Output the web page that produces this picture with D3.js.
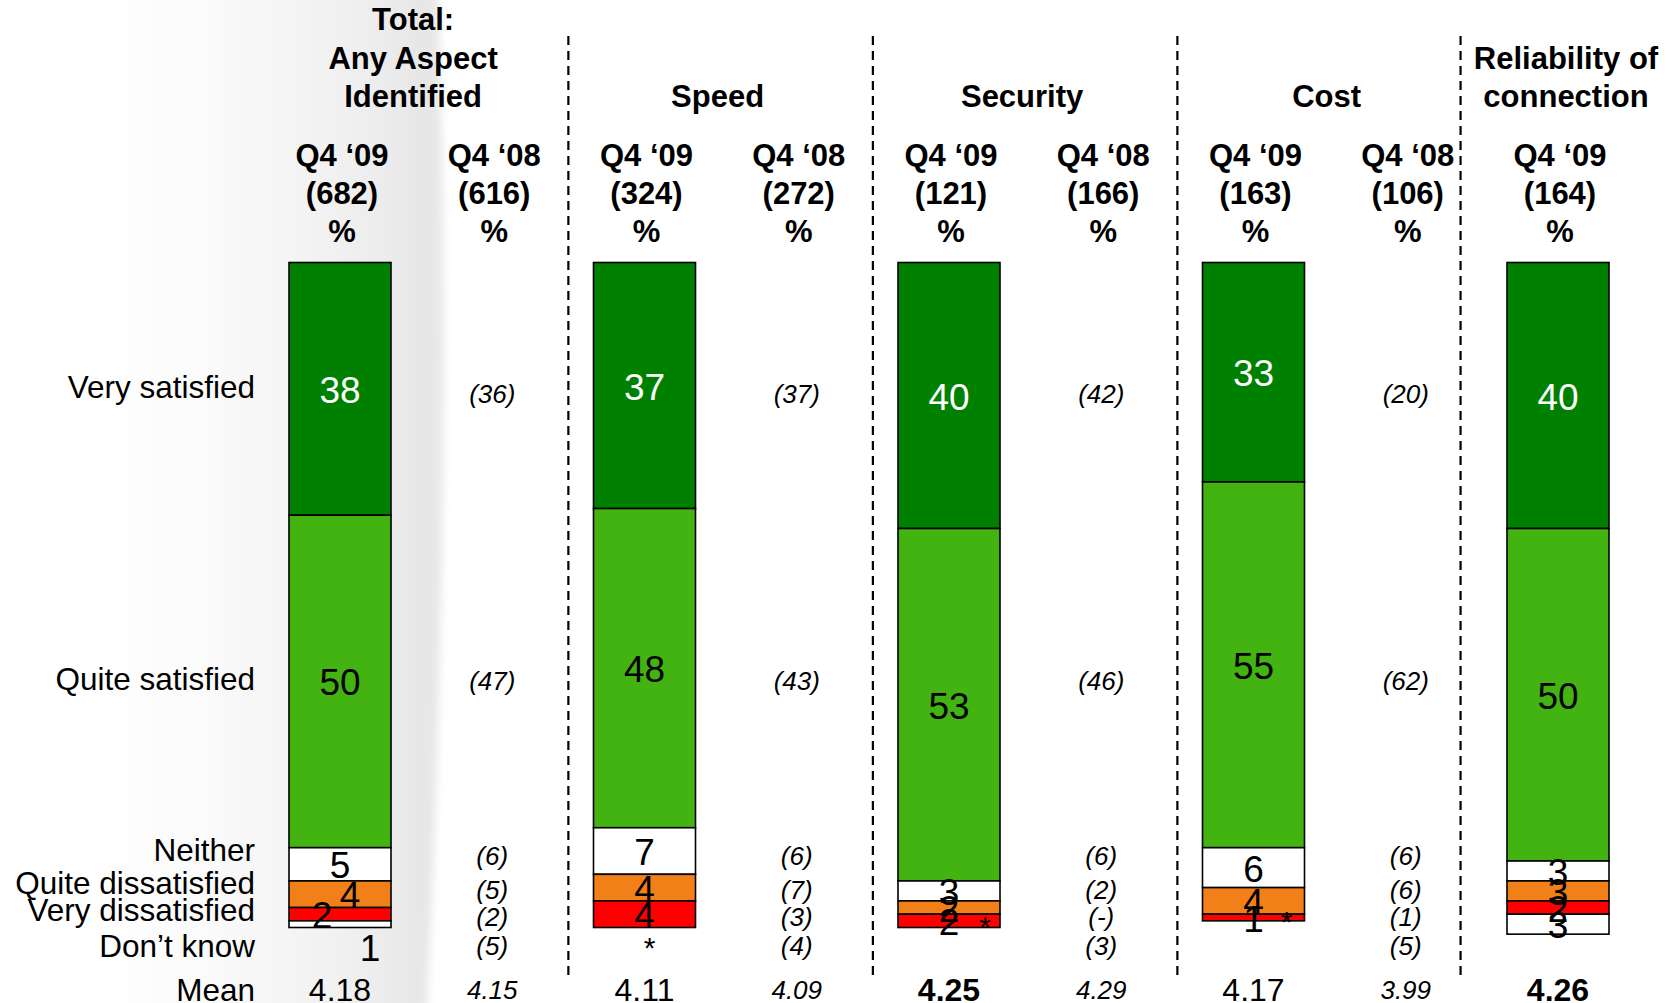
<!DOCTYPE html>
<html>
<head>
<meta charset="utf-8">
<script src="https://cdn.jsdelivr.net/npm/d3@7"></script>
<style>
  body { margin: 0; background: #fff; }
  svg { display: block; font-family: "Liberation Sans", Arial, sans-serif; }
</style>
</head>
<body>
<script>
const width = 1672
const height = 1003

// data
const categories = ["Very satisfied", "Quite satisfied", "Neither", "Quite dissatisfied", "Very dissatisfied", "Don’t know"]
const groupTitles = [["Total:", "Any Aspect", "Identified"], ["Speed"], ["Security"], ["Cost"], ["Reliability of", "connection"]]
const waves = ["Q4 ‘09", "Q4 ‘08"]
const base09 = [682, 324, 121, 163, 164]
const base08 = [616, 272, 166, 106, null]

// Q4 '09 bars (0 = "*", less than 0.5%)
const total09 = [38, 50, 5, 4, 2, 1]
const speed09 = [37, 48, 7, 4, 4, 0]
const security09 = [40, 53, 3, 2, 2, 0]
const cost09 = [33, 55, 6, 4, 1, 0]
const reliability09 = [40, 50, 3, 3, 2, 3]

// Q4 '08 comparison figures (null = "-")
const total08 = [36, 47, 6, 5, 2, 5]
const speed08 = [37, 43, 6, 7, 3, 4]
const security08 = [42, 46, 6, 2, null, 3]
const cost08 = [20, 62, 6, 6, 1, 5]

const mean09 = [4.18, 4.11, 4.25, 4.17, 4.26]
const mean08 = [4.15, 4.09, 4.29, 3.99]
const meanSignificant = [false, false, true, false, true]

const colors = ["#008000", "#43b311", "#ffffff", "#f28018", "#ff0000", "#ffffff"]

const values09 = [total09, speed09, security09, cost09, reliability09]
const values08 = [total08, speed08, security08, cost08]

// one entry per column, in reading order
const columns = []
groupTitles.forEach((t, g) => {
  columns.push({key: g + "-09", group: g, wave: 0, n: base09[g], values: values09[g], mean: mean09[g]})
  if (base08[g] != null)
    columns.push({key: g + "-08", group: g, wave: 1, n: base08[g], values: values08[g], mean: mean08[g]})
})

const x = d3.scalePoint().domain(columns.map(c => c.key)).range([340, 1558])
const y = d3.scaleLinear().domain([0, 100]).range([262.5, 927.5])
const barW = 102
const meanBase = 1001

// hand nudges for crowded labels (like the powerpoint original)
const nudge = {
  "0-09": {3: [10, 0], 4: [-18, 0], 5: [30, 23]},
  "1-09": {5: [5, 13]},
  "2-09": {5: [36, -8]},
  "3-09": {5: [33, -6]}
}

const svg = d3.select("body").append("svg")
  .attr("width", width)
  .attr("height", height)

// soft grey shading behind the first column
const defs = svg.append("defs")
const grad = defs.append("linearGradient").attr("id", "shade")
  .attr("gradientUnits", "userSpaceOnUse")
  .attr("x1", 90).attr("x2", 445).attr("y1", 0).attr("y2", 0)
grad.selectAll("stop")
  .data([[0, "#ffffff"], [0.3, "#fbfbfb"], [0.7, "#f1f1f1"], [0.95, "#e6e6e6"], [1, "#e9e9e9"]])
  .enter().append("stop")
  .attr("offset", d => d[0])
  .attr("stop-color", d => d[1])
defs.append("filter").attr("id", "soft")
  .append("feGaussianBlur").attr("stdDeviation", 4)

svg.append("path")
  .attr("d", "M-20,-20 L438,-20 Q454,480 426,1023 L-20,1023 Z")
  .attr("fill", "url(#shade)")
  .attr("filter", "url(#soft)")

// group titles, bottom aligned
const titleG = svg.append("g")
  .attr("font-weight", "bold")
  .attr("font-size", 31)
  .attr("text-anchor", "middle")
groupTitles.forEach((lines, g) => {
  const cols = columns.filter(c => c.group === g)
  let cx = d3.mean(cols, c => x(c.key))
  if (cols.length === 1) cx += 8
  else cx -= 3
  lines.forEach((line, i) => {
    titleG.append("text")
      .attr("x", cx)
      .attr("y", 107 - (lines.length - 1 - i) * 38.5)
      .text(line)
  })
})

// column headers
const head = svg.append("g")
  .attr("font-weight", "bold")
  .attr("font-size", 31)
  .attr("text-anchor", "middle")
columns.forEach(c => {
  const t = [waves[c.wave], "(" + c.n + ")", "%"]
  t.forEach((s, i) => {
    head.append("text").attr("x", x(c.key) + 2).attr("y", 166 + i * 38).text(s)
  })
})

// dividers between groups: halfway, or closer in when the next group has one column
const dividers = d3.range(1, groupTitles.length).map(g => {
  const first = columns.find(c => c.group === g)
  const single = columns.filter(c => c.group === g).length === 1
  return x(first.key) - x.step() * (single ? 0.64 : 0.5)
})
svg.append("g").selectAll("line")
  .data(dividers)
  .enter().append("line")
  .attr("x1", d => d).attr("x2", d => d)
  .attr("y1", 36).attr("y2", 980)
  .attr("stroke", "#000")
  .attr("stroke-width", 2.2)
  .attr("stroke-dasharray", "9,6")

// stacked bars for Q4 '09
const bars = columns.filter(c => c.wave === 0)
bars.forEach(c => {
  let acc = 0
  const segs = c.values.map((v, i) => {
    const s = {i: i, v: v, y0: acc, y1: acc + v}
    acc += v
    return s
  })
  const g = svg.append("g")
  g.selectAll("rect")
    .data(segs.filter(s => s.v > 0))
    .enter().append("rect")
    .attr("x", x(c.key) - barW / 2)
    .attr("width", barW)
    .attr("y", s => y(s.y0))
    .attr("height", s => y(s.y1) - y(s.y0))
    .attr("fill", s => colors[s.i])
    .attr("stroke", "#000")
    .attr("stroke-width", 1.6)

  g.selectAll("text")
    .data(segs)
    .enter().append("text")
    .attr("text-anchor", "middle")
    .attr("font-size", s => s.v === 0 ? 30 : 37)
    .attr("fill", s => s.i === 0 ? "#fff" : "#000")
    .attr("x", s => x(c.key) + ((nudge[c.key] || {})[s.i] || [0, 0])[0])
    .attr("y", s => {
      const cy = (y(s.y0) + y(s.y1)) / 2 + ((nudge[c.key] || {})[s.i] || [0, 0])[1]
      return s.v === 0 ? cy + 17 : cy + 14
    })
    .text(s => s.v === 0 ? "*" : s.v)
})

// row labels
const t09 = total09
const rowY = [
  y(t09[0] / 2) - 2,
  y(t09[0] + t09[1] / 2) - 2,
  850, 883, 910, 946
]
const rows = svg.append("g")
  .attr("font-size", 31.5)
  .attr("text-anchor", "end")
rows.selectAll("text")
  .data(categories)
  .enter().append("text")
  .attr("x", 255)
  .attr("y", (d, i) => rowY[i] + 11)
  .text(d => d)
rows.append("text").attr("x", 255).attr("y", meanBase).text("Mean")

// Q4 '08 figures in brackets
const prevY = [rowY[0] + 7, rowY[1] + 2, 856, 890, 917, 946]
columns.filter(c => c.wave === 1).forEach(c => {
  svg.append("g")
    .attr("font-size", 26)
    .attr("font-style", "italic")
    .attr("text-anchor", "middle")
    .selectAll("text")
    .data(c.values)
    .enter().append("text")
    .attr("x", x(c.key))
    .attr("y", (d, i) => prevY[i] + 9)
    .text(d => "(" + (d == null ? "-" : d) + ")")
})

// means
svg.append("g").selectAll("text")
  .data(columns)
  .enter().append("text")
  .attr("x", c => x(c.key))
  .attr("y", c => c.wave === 0 ? meanBase : meanBase - 2)
  .attr("text-anchor", "middle")
  .attr("font-size", c => c.wave === 0 ? 32 : 26)
  .attr("font-style", c => c.wave === 1 ? "italic" : "normal")
  .attr("font-weight", c => c.wave === 0 && meanSignificant[c.group] ? "bold" : "normal")
  .text(c => c.mean.toFixed(2))
</script>
</body>
</html>
